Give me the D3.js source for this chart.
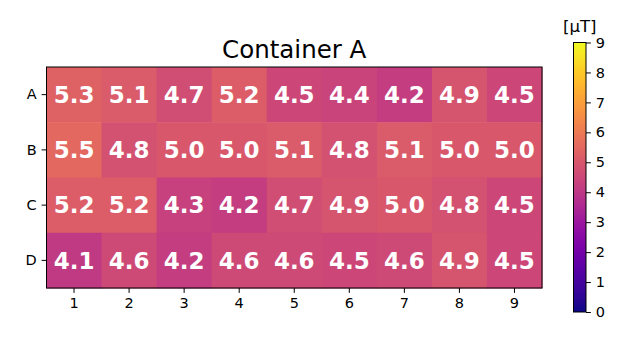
<!DOCTYPE html>
<html>
<head>
<meta charset="utf-8">
<script src="https://cdn.jsdelivr.net/npm/d3@7"></script>
<style>
    body { margin: 0; background: white; }
    text { font-family: "DejaVu Sans", sans-serif; }
    .tick text { font-size: 14.5px; fill: black; }
    .cell-label { font-size: 23px; font-weight: bold; fill: white; }
</style>
</head>
<body>
<script>
    // data
    let rows = ["A", "B", "C", "D"]
    let cols = [1, 2, 3, 4, 5, 6, 7, 8, 9]
    let valuesA = [5.3, 5.1, 4.7, 5.2, 4.5, 4.4, 4.2, 4.9, 4.5]
    let valuesB = [5.5, 4.8, 5.0, 5.0, 5.1, 4.8, 5.1, 5.0, 5.0]
    let valuesC = [5.2, 5.2, 4.3, 4.2, 4.7, 4.9, 5.0, 4.8, 4.5]
    let valuesD = [4.1, 4.6, 4.2, 4.6, 4.6, 4.5, 4.6, 4.9, 4.5]
    let colorTicks = [0, 1, 2, 3, 4, 5, 6, 7, 8, 9]
    let title = "Container A"
    let unit = "[μT]"

    let w = 637, h = 348
    let plot = {left: 46.5, top: 67, width: 495.5, height: 221}
    let bar = {left: 573.5, top: 42.5, width: 12.5, height: 269.5}
    let tick = 4.9

    let svg = d3.select("body").append("svg").attr("width", w).attr("height", h)

    let grid = [valuesA, valuesB, valuesC, valuesD]
    let cells = []
    grid.forEach((vals, i) => vals.forEach((v, j) => cells.push({row: rows[i], col: cols[j], value: v})))

    let x = d3.scaleBand().domain(cols).range([plot.left, plot.left + plot.width])
    let y = d3.scaleBand().domain(rows).range([plot.top, plot.top + plot.height])
    let color = d3.scaleSequential(d3.interpolatePlasma).domain([0, 9])

    svg.selectAll("rect.cell").data(cells).enter().append("rect")
        .attr("class", "cell")
        .attr("x", d => x(d.col))
        .attr("y", d => y(d.row))
        .attr("width", x.bandwidth() + 0.5)
        .attr("height", y.bandwidth() + 0.5)
        .attr("fill", d => color(d.value))

    svg.selectAll("text.cell-label").data(cells).enter().append("text")
        .attr("class", "cell-label")
        .attr("x", d => x(d.col) + x.bandwidth() / 2)
        .attr("y", d => y(d.row) + y.bandwidth() / 2)
        .attr("text-anchor", "middle")
        .attr("dy", "0.36em")
        .text(d => d.value.toFixed(1))

    // frame
    svg.append("rect")
        .attr("x", plot.left).attr("y", plot.top)
        .attr("width", plot.width).attr("height", plot.height)
        .attr("fill", "none").attr("stroke", "black").attr("stroke-width", 1)

    let xAxis = svg.append("g")
        .attr("transform", "translate(0," + (plot.top + plot.height) + ")")
        .call(d3.axisBottom(x).tickSize(tick).tickPadding(tick))
    let yAxis = svg.append("g")
        .attr("transform", "translate(" + plot.left + ",0)")
        .call(d3.axisLeft(y).tickSize(tick).tickPadding(tick))
    for (let a of [xAxis, yAxis]) {
        a.select(".domain").remove()
        a.selectAll(".tick line").attr("stroke", "black")
        a.selectAll(".tick text").attr("font-family", null)
    }

    svg.append("text")
        .attr("x", plot.left + plot.width / 2)
        .attr("y", plot.top - 9)
        .attr("text-anchor", "middle")
        .style("font-size", "24.5px")
        .text(title)

    // colorbar
    let defs = svg.append("defs")
    let grad = defs.append("linearGradient").attr("id", "cbar")
        .attr("x1", 0).attr("y1", 1).attr("x2", 0).attr("y2", 0)
    d3.range(0, 1.0001, 0.05).forEach(t => {
        grad.append("stop").attr("offset", t).attr("stop-color", d3.interpolatePlasma(t))
    })
    svg.append("rect")
        .attr("x", bar.left).attr("y", bar.top)
        .attr("width", bar.width).attr("height", bar.height)
        .attr("fill", "url(#cbar)")
        .attr("stroke", "black").attr("stroke-width", 1)

    let cScale = d3.scaleLinear().domain([0, 9]).range([bar.top + bar.height, bar.top])
    let cAxis = svg.append("g")
        .attr("transform", "translate(" + (bar.left + bar.width) + ",0)")
        .call(d3.axisRight(cScale).tickValues(colorTicks).tickFormat(d3.format("d")).tickSize(tick).tickPadding(tick))
    cAxis.select(".domain").remove()
    cAxis.selectAll(".tick line").attr("stroke", "black")
    cAxis.selectAll(".tick text").attr("font-family", null)

    svg.append("text")
        .attr("x", bar.left + bar.width / 2)
        .attr("y", bar.top - 11)
        .attr("text-anchor", "middle")
        .style("font-size", "16.5px")
        .text(unit)
</script>
</body>
</html>
